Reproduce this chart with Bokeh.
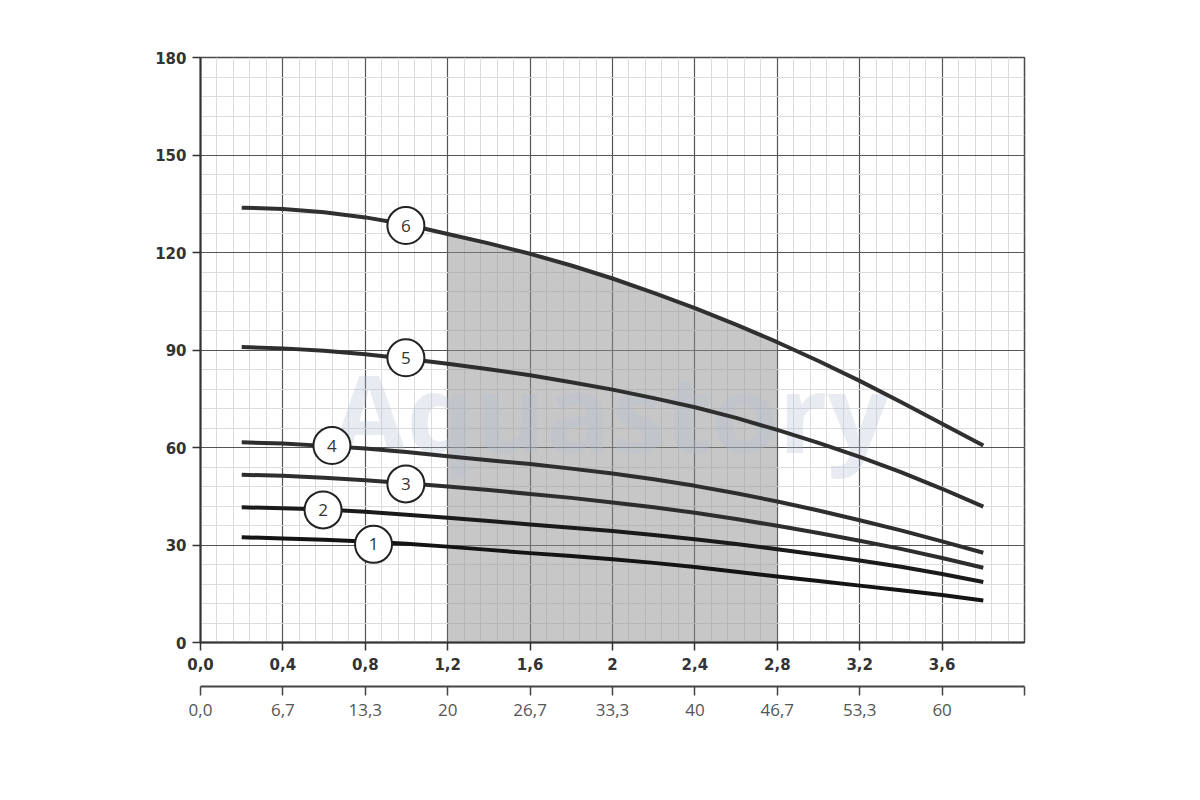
import numpy as np
from bokeh.plotting import figure
from bokeh.models import Range1d, LinearAxis, FixedTicker, SingleIntervalTicker, ColumnDataSource
from bokeh.core.properties import value
from bokeh.embed import file_html
from bokeh.resources import INLINE

# ---------------- data ----------------
flow = [0.2, 0.4, 0.6, 0.8, 1.0, 1.2, 1.4, 1.6, 1.8, 2.0,
        2.2, 2.4, 2.6, 2.8, 3.0, 3.2, 3.4, 3.6, 3.8]
head_1 = [32.4, 32.0, 31.6, 31.1, 30.4, 29.5, 28.5, 27.5, 26.6, 25.6,
          24.5, 23.2, 21.8, 20.3, 18.9, 17.5, 16.1, 14.6, 12.9]
head_2 = [41.6, 41.3, 40.9, 40.2, 39.3, 38.4, 37.4, 36.3, 35.3, 34.3,
          33.1, 31.8, 30.3, 28.7, 27.0, 25.2, 23.3, 21.1, 18.6]
head_3 = [51.6, 51.3, 50.7, 49.9, 49.0, 48.0, 46.9, 45.7, 44.5, 43.1,
          41.6, 39.9, 38.0, 35.9, 33.7, 31.3, 28.8, 26.0, 23.0]
head_4 = [61.6, 61.2, 60.5, 59.7, 58.6, 57.3, 56.1, 54.9, 53.5, 52.0,
          50.2, 48.2, 45.9, 43.4, 40.6, 37.6, 34.5, 31.1, 27.6]
head_5 = [90.9, 90.5, 89.8, 88.7, 87.3, 85.8, 84.1, 82.2, 80.1, 77.8,
          75.2, 72.4, 69.1, 65.4, 61.4, 57.1, 52.4, 47.3, 41.8]
head_6 = [133.8, 133.4, 132.4, 130.8, 128.6, 125.7, 122.8, 119.6, 116.0, 112.0,
          107.6, 102.9, 97.8, 92.4, 86.6, 80.5, 74.0, 67.3, 60.6]
curves = [head_1, head_2, head_3, head_4, head_5, head_6]
curve_colors = ["#141414", "#1a1a1a", "#2e2e2e", "#2e2e2e", "#2e2e2e", "#303030"]

label_text = ["1", "2", "3", "4", "5", "6"]
label_x = [0.84, 0.595, 0.997, 0.638, 0.997, 0.997]
label_y = [30.2, 40.8, 48.8, 60.6, 87.6, 128.3]

shade_from, shade_to = 1.2, 2.8

x_ticks = [0.0, 0.4, 0.8, 1.2, 1.6, 2.0, 2.4, 2.8, 3.2, 3.6]
x_tick_labels = ["0,0", "0,4", "0,8", "1,2", "1,6", "2", "2,4", "2,8", "3,2", "3,6"]
q_ticks = [0.0, 0.4, 0.8, 1.2, 1.6, 2.0, 2.4, 2.8, 3.2, 3.6, 4.0]
q_tick_labels = ["0,0", "6,7", "13,3", "20", "26,7", "33,3", "40", "46,7", "53,3", "60", ""]
y_ticks = [0, 30, 60, 90, 120, 150, 180]

watermark = "Aquastory"

# ---------------- figure ----------------
p = figure(width=1184, height=784, output_backend="svg", toolbar_location=None,
           x_range=Range1d(0, 4.0), y_range=Range1d(0, 180),
           min_border_left=200, min_border_right=160, min_border_top=57,
           min_border_bottom=142)
p.background_fill_color = "white"
p.border_fill_color = "white"
p.outline_line_color = "#4a4a4a"
p.outline_line_width = 1.5

# grid
p.xgrid.ticker = SingleIntervalTicker(interval=0.4, num_minor_ticks=5)
p.ygrid.ticker = SingleIntervalTicker(interval=30, num_minor_ticks=5)
for g in (p.xgrid, p.ygrid):
    g.grid_line_color = "#555555"
    g.grid_line_width = 1.2
    g.minor_grid_line_color = "#dcdcdc"
    g.minor_grid_line_width = 1

# shaded operating range, bounded by curve 6
sx = [f for f in flow if shade_from - 1e-9 <= f <= shade_to + 1e-9]
sy = [h for f, h in zip(flow, head_6) if shade_from - 1e-9 <= f <= shade_to + 1e-9]
p.varea(x=sx, y1=[0] * len(sx), y2=sy, fill_color="#8f8f8f", fill_alpha=0.5)

# watermark
wsrc = ColumnDataSource(dict(x=[1.99], y=[71], t=[watermark]))
p.text("x", "y", text="t", source=wsrc, text_align="center", text_baseline="middle",
       text_font=value("Open Sans"), text_font_style="bold", text_font_size="108px",
       text_color="#b4c0d4", text_alpha=0.3)

# curves
for h, c in zip(curves, curve_colors):
    p.line(flow, h, line_width=4, line_color=c, line_join="round")

# labels
src = ColumnDataSource(dict(x=label_x, y=label_y, t=label_text))
p.scatter("x", "y", source=src, marker="circle", size=37, fill_color="white",
          line_color="#222222", line_width=2)
p.text("x", "y", text="t", source=src, text_align="center", text_baseline="middle",
       text_font=value("Open Sans"), text_font_size="17px", text_color="#333333")

# primary x axis
xa = p.xaxis[0]
xa.ticker = FixedTicker(ticks=x_ticks)
xa.major_label_overrides = {t: l for t, l in zip(x_ticks, x_tick_labels)}
xa.major_tick_out = 8
xa.major_tick_in = 0
xa.minor_tick_out = 0
xa.minor_tick_in = 0
xa.major_label_standoff = 7
xa.major_label_text_font = "DejaVu Sans"
xa.major_label_text_font_style = "bold"
xa.major_label_text_font_size = "15px"
xa.major_label_text_color = "#333333"
xa.axis_line_color = "#333333"
xa.axis_line_width = 2
xa.major_tick_line_color = "#333333"
xa.major_tick_line_width = 1.5
xa.axis_label = " "
xa.axis_label_text_font_size = "8px"
xa.axis_label_standoff = 2

# secondary x axis
qa = LinearAxis(ticker=FixedTicker(ticks=q_ticks))
qa.major_label_overrides = {t: l for t, l in zip(q_ticks, q_tick_labels)}
qa.major_tick_out = 9
qa.major_tick_in = 0
qa.minor_tick_out = 0
qa.minor_tick_in = 0
qa.major_label_standoff = 8
qa.major_label_text_font = "Open Sans"
qa.major_label_text_font_size = "17px"
qa.major_label_text_color = "#555555"
qa.axis_line_color = "#444444"
qa.axis_line_width = 2
qa.major_tick_line_color = "#444444"
qa.major_tick_line_width = 1.5
p.add_layout(qa, "below")

# y axis
ya = p.yaxis[0]
ya.ticker = FixedTicker(ticks=y_ticks)
ya.major_tick_out = 8
ya.major_tick_in = 0
ya.minor_tick_out = 0
ya.minor_tick_in = 0
ya.major_label_standoff = 6
ya.major_label_text_font = "DejaVu Sans"
ya.major_label_text_font_style = "bold"
ya.major_label_text_font_size = "15px"
ya.major_label_text_color = "#333333"
ya.axis_line_color = "#333333"
ya.axis_line_width = 2
ya.major_tick_line_color = "#333333"
ya.major_tick_line_width = 1.5

open("out.html", "w").write(file_html(p, INLINE))
